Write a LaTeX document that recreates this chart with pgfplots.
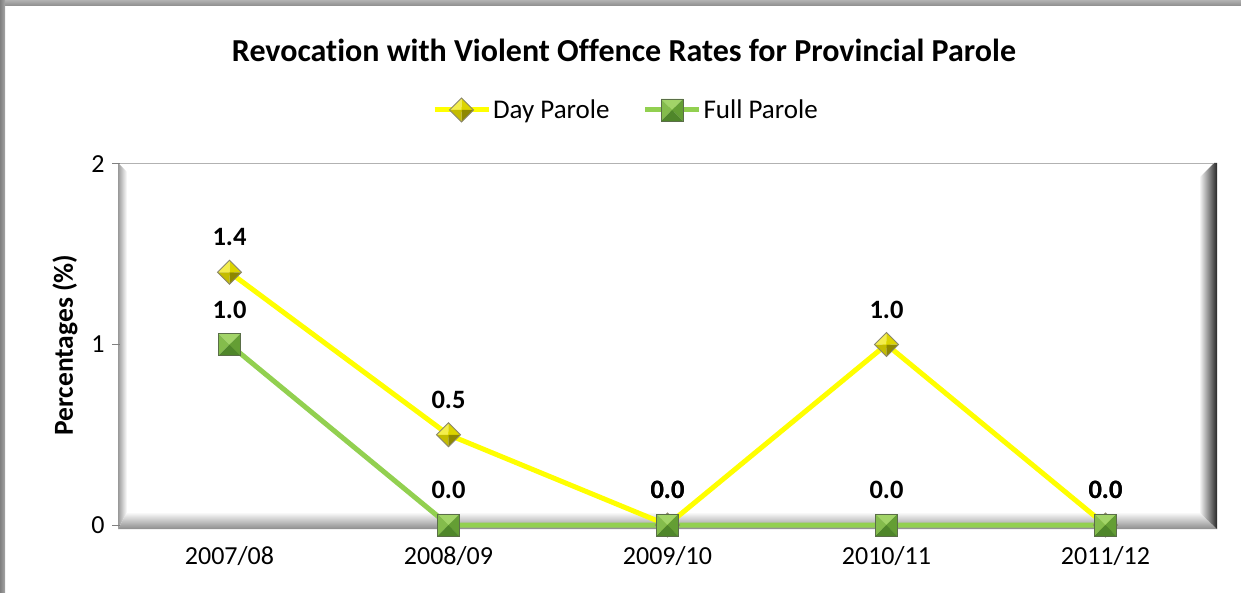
\documentclass[border=0pt]{standalone}
\usepackage{pgfplots}
\pgfplotsset{compat=1.18}
\usepackage{fontspec}
\setmainfont{Carlito}[Ligatures=NoCommon]
\definecolor{dayline}{HTML}{FFFF00}
\definecolor{fullline}{HTML}{92D050}
\definecolor{dtl}{HTML}{F4EE4C}
\definecolor{dtr}{HTML}{DCD400}
\definecolor{dbl}{HTML}{C4BC00}
\definecolor{dbr}{HTML}{8E8800}
\definecolor{dbd}{HTML}{8A866A}
\definecolor{stp}{HTML}{A2D468}
\definecolor{slf}{HTML}{84BC4C}
\definecolor{srt}{HTML}{649E34}
\definecolor{sbt}{HTML}{4F862A}
\definecolor{sbd}{HTML}{5A6E48}
\pgfdeclareplotmark{pyrdia}{%
  \pgfsetlinewidth{0pt}%
  \pgfpathmoveto{\pgfqpoint{0pt}{\pgfplotmarksize}}\pgfpathlineto{\pgfqpoint{-\pgfplotmarksize}{0pt}}\pgfpathlineto{\pgfqpoint{0pt}{0pt}}\pgfpathclose
  \pgfsetfillcolor{dtl}\pgfusepath{fill}%
  \pgfpathmoveto{\pgfqpoint{0pt}{\pgfplotmarksize}}\pgfpathlineto{\pgfqpoint{\pgfplotmarksize}{0pt}}\pgfpathlineto{\pgfqpoint{0pt}{0pt}}\pgfpathclose
  \pgfsetfillcolor{dtr}\pgfusepath{fill}%
  \pgfpathmoveto{\pgfqpoint{0pt}{-\pgfplotmarksize}}\pgfpathlineto{\pgfqpoint{-\pgfplotmarksize}{0pt}}\pgfpathlineto{\pgfqpoint{0pt}{0pt}}\pgfpathclose
  \pgfsetfillcolor{dbl}\pgfusepath{fill}%
  \pgfpathmoveto{\pgfqpoint{0pt}{-\pgfplotmarksize}}\pgfpathlineto{\pgfqpoint{\pgfplotmarksize}{0pt}}\pgfpathlineto{\pgfqpoint{0pt}{0pt}}\pgfpathclose
  \pgfsetfillcolor{dbr}\pgfusepath{fill}%
  \pgfsetlinewidth{0.8pt}\pgfsetstrokecolor{dbd}%
  \pgfpathmoveto{\pgfqpoint{0pt}{\pgfplotmarksize}}\pgfpathlineto{\pgfqpoint{-\pgfplotmarksize}{0pt}}\pgfpathlineto{\pgfqpoint{0pt}{-\pgfplotmarksize}}\pgfpathlineto{\pgfqpoint{\pgfplotmarksize}{0pt}}\pgfpathclose
  \pgfusepath{stroke}%
}
\pgfdeclareplotmark{pyrsq}{%
  \pgfsetlinewidth{0pt}%
  \pgfpathmoveto{\pgfqpoint{-\pgfplotmarksize}{\pgfplotmarksize}}\pgfpathlineto{\pgfqpoint{\pgfplotmarksize}{\pgfplotmarksize}}\pgfpathlineto{\pgfqpoint{0pt}{0pt}}\pgfpathclose
  \pgfsetfillcolor{stp}\pgfusepath{fill}%
  \pgfpathmoveto{\pgfqpoint{-\pgfplotmarksize}{\pgfplotmarksize}}\pgfpathlineto{\pgfqpoint{-\pgfplotmarksize}{-\pgfplotmarksize}}\pgfpathlineto{\pgfqpoint{0pt}{0pt}}\pgfpathclose
  \pgfsetfillcolor{slf}\pgfusepath{fill}%
  \pgfpathmoveto{\pgfqpoint{\pgfplotmarksize}{\pgfplotmarksize}}\pgfpathlineto{\pgfqpoint{\pgfplotmarksize}{-\pgfplotmarksize}}\pgfpathlineto{\pgfqpoint{0pt}{0pt}}\pgfpathclose
  \pgfsetfillcolor{srt}\pgfusepath{fill}%
  \pgfpathmoveto{\pgfqpoint{-\pgfplotmarksize}{-\pgfplotmarksize}}\pgfpathlineto{\pgfqpoint{\pgfplotmarksize}{-\pgfplotmarksize}}\pgfpathlineto{\pgfqpoint{0pt}{0pt}}\pgfpathclose
  \pgfsetfillcolor{sbt}\pgfusepath{fill}%
  \pgfsetlinewidth{0.8pt}\pgfsetstrokecolor{sbd}%
  \pgfpathrectangle{\pgfqpoint{-\pgfplotmarksize}{-\pgfplotmarksize}}{\pgfqpoint{2\pgfplotmarksize}{2\pgfplotmarksize}}%
  \pgfusepath{stroke}%
}
\begin{document}
\begin{tikzpicture}[x=1pt,y=1pt]
\path (0,0) rectangle (1241,592);
% outer frame
\shade[top color=black!30,bottom color=black!45] (0,586) rectangle (1241,592);
\shade[left color=black!50,right color=black!35] (0,0) rectangle (5,592);
% 3D wall
\shade[top color=white,bottom color=black!45] (118,63) -- (1217,63) -- (1199,80) -- (127,80) -- cycle;
\shade[left color=black!40,right color=white] (118,63) -- (118,429) -- (127,420) -- (127,80) -- cycle;
\draw[black!30,line width=1.5pt] (120,428.5) -- (1213,428.5);
\shade[left color=white,right color=black!85] (1199,80) -- (1199,414) -- (1214,429) -- (1217,429) -- (1217,63) -- cycle;
% title and y label
\node[font=\bfseries\fontsize{32}{38}\selectfont] at (624,542) {Revocation with Violent Offence Rates for Provincial Parole};
\node[rotate=90,font=\bfseries\fontsize{27.5}{32}\selectfont] at (65,247) {Percentages (\%)};
\begin{axis}[
  at={(120pt,67pt)}, anchor=south west, scale only axis,
  width=1095pt, height=361pt,
  xmin=-0.5, xmax=4.5, ymin=0, ymax=2,
  xtick={0,1,2,3,4},
  xticklabels={2007/08,2008/09,2009/10,2010/11,2011/12},
  ytick={0,1,2}, ytick pos=left,
  axis line style={draw=none},
  xtick style={draw=none},
  ytick style={draw=black!50,line width=1pt},
  tick align=outside, major tick length=8pt,
  ticklabel style={font=\fontsize{26}{30}\selectfont},
  xticklabel style={yshift=-10pt},
  yticklabel style={xshift=-4pt},
  /pgf/number format/assume math mode=true,
  clip=false,
  nodes near coords={\pgfmathprintnumber[fixed,fixed zerofill,precision=1]{\pgfplotspointmeta}},
  every node near coord/.append style={anchor=center,yshift=35pt,font=\bfseries\fontsize{26.5}{30}\selectfont,text=black},
  legend columns=2,
  legend style={at={(axis description cs:0.462,1.1496)},anchor=center,draw=none,fill=none,
    font=\fontsize{27}{31}\selectfont,
    /tikz/every even column/.append style={column sep=31pt}},
  legend image code/.code={\draw[mark repeat=2,mark phase=2,#1] plot coordinates {(0pt,0pt)(27pt,0pt)(54pt,0pt)};},
]
\addplot[dayline,line width=5pt,mark=pyrdia,mark size=12pt,mark options={solid}] coordinates {(0,1.4)(1,0.5)(2,0.0)(3,1.0)(4,0.0)};
\addlegendentry{Day Parole}
\addplot[fullline,line width=5pt,mark=pyrsq,mark size=11pt,mark options={solid}] coordinates {(0,1.0)(1,0.0)(2,0.0)(3,0.0)(4,0.0)};
\addlegendentry{Full Parole}
\end{axis}
\end{tikzpicture}
\end{document}
